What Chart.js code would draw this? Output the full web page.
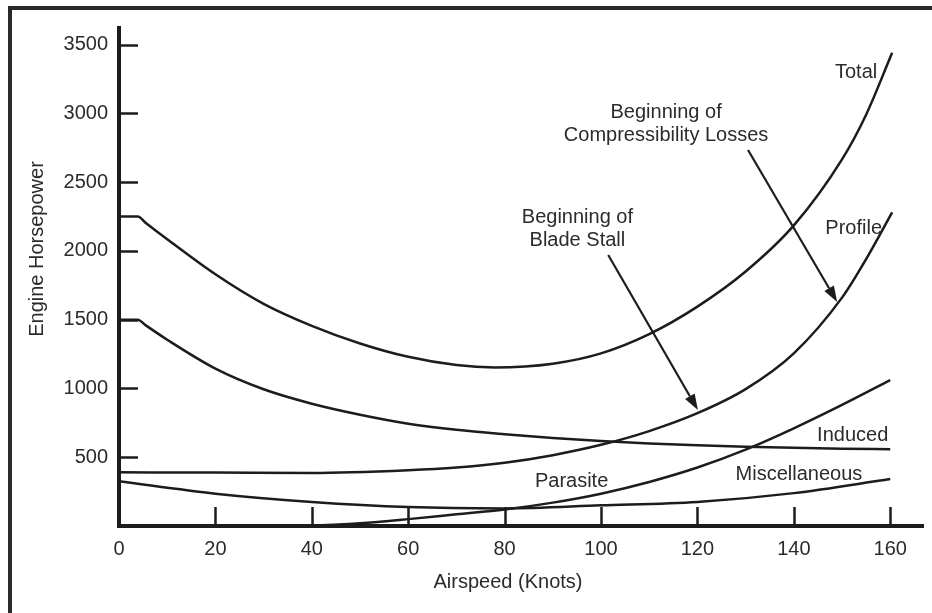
<!DOCTYPE html>
<html>
<head>
<meta charset="utf-8">
<script src="https://cdn.jsdelivr.net/npm/chart.js@4.4.1/dist/chart.umd.min.js"></script>
<style>
html,body{margin:0;padding:0;background:#fff;}
#wrap{width:932px;height:613px;position:relative;}
canvas{display:block;}
</style>
</head>
<body>
<div id="wrap"><canvas id="c" width="932" height="613"></canvas></div>
<script>
// ---- data ----
const xTickValues = [0, 20, 40, 60, 80, 100, 120, 140, 160];
const yTickValues = [500, 1000, 1500, 2000, 2500, 3000, 3500];
const xTitle = 'Airspeed (Knots)';
const yTitle = 'Engine Horsepower';

const totalKnots = [0, 3.9, 5.5, 10, 20, 30, 40, 50, 60, 70, 78, 90, 100, 110, 120, 130, 140, 150, 155, 160.4];
const totalHp    = [2250, 2250, 2205, 2085, 1830, 1615, 1455, 1327, 1230, 1170, 1153, 1180, 1255, 1395, 1595, 1850, 2185, 2665, 2990, 3440];

const inducedKnots = [0, 3.9, 5.5, 10, 20, 30, 40, 50, 60, 70, 80, 90, 100, 110, 120, 130, 140, 150, 160];
const inducedHp    = [1500, 1500, 1460, 1354, 1144, 994, 889, 809, 744, 699, 667, 640, 617, 600, 587, 576, 568, 562, 558];

const profileKnots = [0, 20, 40, 60, 70, 80, 90, 100, 110, 120, 130, 140, 150, 155, 160.4];
const profileHp    = [390, 388, 385, 405, 425, 460, 515, 590, 690, 820, 995, 1255, 1660, 1940, 2280];

const parasiteKnots = [38, 50, 60, 70, 80, 90, 100, 110, 120, 130, 140, 150, 160];
const parasiteHp    = [0, 20, 50, 85, 120, 170, 235, 320, 425, 555, 710, 880, 1060];

const miscKnots = [0, 20, 40, 60, 80, 100, 120, 140, 160];
const miscHp    = [325, 235, 175, 138, 128, 150, 175, 239, 341];

// curve labels (data coordinates)
const curveLabels = [
  {text: 'Total',         x: 157.3, y: 3300, align: 'right'},
  {text: 'Profile',       x: 158.3, y: 2166, align: 'right'},
  {text: 'Induced',       x: 159.6, y: 661,  align: 'right'},
  {text: 'Miscellaneous', x: 154.2, y: 371,  align: 'right'},
  {text: 'Parasite',      x: 93.9,  y: 320,  align: 'center'}
];
// callouts with arrows (data coordinates)
const callouts = [
  {lines: ['Beginning of', 'Blade Stall'], x: 95.1, y: [2246, 2079], from: [101.5, 1970], to: [120.1, 843]},
  {lines: ['Beginning of', 'Compressibility Losses'], x: 113.5, y: [3009, 2842], from: [130.5, 2733], to: [149.0, 1628]}
];

function pts(xs, ys) { return xs.map((v, i) => ({x: v, y: ys[i]})); }

const FONT = '"Liberation Sans", Arial, Helvetica, sans-serif';
const INK = '#1c1c1c';
const TEXT = '#2b2b2b';

const decor = {
  id: 'decor',
  beforeDraw(chart) {
    const ctx = chart.ctx;
    ctx.save();
    ctx.fillStyle = '#ffffff';
    ctx.fillRect(0, 0, chart.width, chart.height);
    ctx.restore();
  },
  afterDraw(chart) {
    const {ctx, chartArea, scales: {x, y}} = chart;
    ctx.save();
    // outer frame (top and left edges visible)
    ctx.strokeStyle = '#2a2a2a';
    ctx.lineWidth = 4;
    ctx.beginPath();
    ctx.moveTo(10, chart.height);
    ctx.lineTo(10, 8);
    ctx.lineTo(chart.width, 8);
    ctx.stroke();

    // inward tick marks
    ctx.strokeStyle = INK;
    ctx.lineWidth = 2.5;
    yTickValues.forEach(v => {
      const py = Math.round(y.getPixelForValue(v)) + 0.5;
      ctx.beginPath(); ctx.moveTo(chartArea.left, py); ctx.lineTo(chartArea.left + 19, py); ctx.stroke();
    });
    xTickValues.filter(v => v > 0).forEach(v => {
      const px = Math.round(x.getPixelForValue(v)) + 0.5;
      ctx.beginPath(); ctx.moveTo(px, chartArea.bottom); ctx.lineTo(px, chartArea.bottom - 19); ctx.stroke();
    });

    // axis titles
    ctx.fillStyle = TEXT;
    ctx.font = '20px ' + FONT;
    ctx.textAlign = 'center';
    ctx.textBaseline = 'middle';
    ctx.fillText(xTitle, chartArea.left + 389, chartArea.bottom + 56);
    ctx.save();
    ctx.translate(37, 249);
    ctx.rotate(-Math.PI / 2);
    ctx.fillText(yTitle, 0, 0);
    ctx.restore();

    // curve labels
    curveLabels.forEach(l => {
      ctx.textAlign = l.align;
      ctx.fillText(l.text, x.getPixelForValue(l.x), y.getPixelForValue(l.y));
    });

    // callouts
    callouts.forEach(c => {
      ctx.textAlign = 'center';
      c.lines.forEach((t, i) => ctx.fillText(t, x.getPixelForValue(c.x), y.getPixelForValue(c.y[i])));
      const x1 = x.getPixelForValue(c.from[0]), y1 = y.getPixelForValue(c.from[1]);
      const x2 = x.getPixelForValue(c.to[0]), y2 = y.getPixelForValue(c.to[1]);
      const ang = Math.atan2(y2 - y1, x2 - x1);
      const head = 16, half = 5.5;
      const bx = x2 - head * Math.cos(ang), by = y2 - head * Math.sin(ang);
      ctx.strokeStyle = INK;
      ctx.lineWidth = 2.2;
      ctx.beginPath(); ctx.moveTo(x1, y1); ctx.lineTo(bx, by); ctx.stroke();
      ctx.fillStyle = INK;
      ctx.beginPath();
      ctx.moveTo(x2, y2);
      ctx.lineTo(bx + half * Math.sin(ang), by - half * Math.cos(ang));
      ctx.lineTo(bx - half * Math.sin(ang), by + half * Math.cos(ang));
      ctx.closePath();
      ctx.fill();
      ctx.fillStyle = TEXT;
    });
    ctx.restore();
  }
};

const lineStyle = {borderColor: INK, borderWidth: 2.5, pointRadius: 0, fill: false, cubicInterpolationMode: 'monotone'};

new Chart(document.getElementById('c'), {
  type: 'line',
  data: {
    datasets: [
      Object.assign({label: 'Total', data: pts(totalKnots, totalHp)}, lineStyle),
      Object.assign({label: 'Induced', data: pts(inducedKnots, inducedHp)}, lineStyle),
      Object.assign({label: 'Profile', data: pts(profileKnots, profileHp)}, lineStyle),
      Object.assign({label: 'Parasite', data: pts(parasiteKnots, parasiteHp)}, lineStyle),
      Object.assign({label: 'Miscellaneous', data: pts(miscKnots, miscHp)}, lineStyle)
    ]
  },
  options: {
    responsive: false,
    animation: false,
    devicePixelRatio: 1,
    layout: {padding: {left: 8, top: 28, right: 9, bottom: 0}},
    plugins: {legend: {display: false}, tooltip: {enabled: false}, title: {display: false}},
    scales: {
      x: {
        type: 'linear', min: 0, max: 166.8,
        afterFit(s) { s.height = 87; },
        afterBuildTicks(s) { s.ticks = xTickValues.map(v => ({value: v})); },
        grid: {display: false, drawTicks: false},
        border: {display: true, width: 4, color: INK},
        ticks: {padding: 11, color: TEXT, maxRotation: 0, autoSkip: false, font: {family: FONT, size: 20},
                callback: v => String(v)}
      },
      y: {
        type: 'linear', min: 0, max: 3620,
        afterFit(s) { s.width = 111; },
        afterBuildTicks(s) { s.ticks = yTickValues.map(v => ({value: v})); },
        grid: {display: false, drawTicks: false},
        border: {display: true, width: 4, color: INK},
        ticks: {padding: 11, color: TEXT, autoSkip: false, font: {family: FONT, size: 20},
                callback: v => String(v)}
      }
    }
  },
  plugins: [decor]
});
</script>
</body>
</html>
